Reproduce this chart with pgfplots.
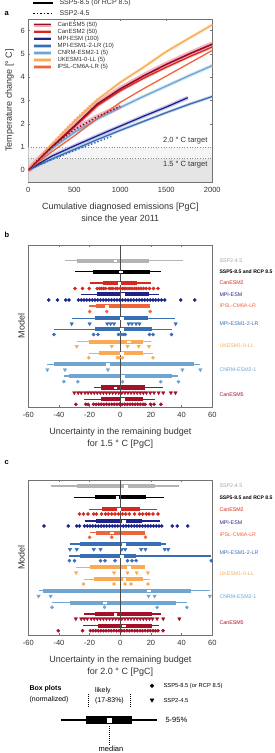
\documentclass[border=0pt]{standalone}
\usepackage{fontspec}
\setmainfont{Liberation Sans}
\usepackage{pgfplots}
\pgfplotsset{compat=1.18}
\definecolor{cCan5}{RGB}{150,12,35}
\definecolor{cCan5l}{RGB}{165,15,40}
\definecolor{cCan5b}{RGB}{242,165,185}
\definecolor{cCan2}{RGB}{215,40,30}
\definecolor{cCan2b}{RGB}{245,185,175}
\definecolor{cMPI}{RGB}{30,35,140}
\definecolor{cMPIb}{RGB}{190,190,232}
\definecolor{cMPI2}{RGB}{55,110,180}
\definecolor{cMPI2b}{RGB}{185,205,232}
\definecolor{cCNRM}{RGB}{110,165,210}
\definecolor{cCNRMb}{RGB}{200,225,242}
\definecolor{cUK}{RGB}{250,170,85}
\definecolor{cUKb}{RGB}{254,220,175}
\definecolor{cIPSL}{RGB}{240,100,60}
\definecolor{cIPSLb}{RGB}{250,200,180}
\definecolor{cGray}{RGB}{180,180,180}
\definecolor{txt}{RGB}{50,50,50}
\newcommand{\fsz}[1]{\fontsize{#1}{#1}\selectfont}
\newcommand{\bx}[7]{%
 \addplot[#1, line width=1.2pt, forget plot] coordinates {(#3,#2) (#4,#2)};
 \addplot[#1, line width=4.2pt, forget plot] coordinates {(#5,#2) (#6,#2)};
 \addplot[white, only marks, mark=square*, mark size=0.75pt, mark options={white, xscale=1.7}, forget plot] coordinates {(#7,#2)};
}
\newcommand{\dt}[3]{\addplot[only marks, mark=*, mark size=1.6pt, #1, forget plot] table[row sep=\\, header=false, x index=0, y expr=#2] {#3};}
\newcommand{\tr}[3]{\addplot[only marks, mark=triangle*, mark size=2pt, mark options={rotate=180}, #1, forget plot] table[row sep=\\, header=false, x index=0, y expr=#2] {#3};}
\pgfplotsset{
 pstyle/.style={scale only axis, anchor=north west, tick align=inside, major tick length=2pt,
   axis line style={black!55}, tick style={black!55, line width=0.4pt},
   ticklabel style={font=\fsz{7.5}, text=txt},
   xticklabel style={yshift=-1.5pt},
   label style={text=txt},
   xlabel style={align=center, font=\fontsize{9}{11.8}\selectfont, yshift=-3.5pt},
   ylabel style={font=\fsz{9}}},
 bstyle/.style={pstyle, width=184pt, xmin=-60, xmax=60, y dir=reverse, ytick=\empty,
   xtick={-60,-40,-20,0,20,40,60}, xticklabels={-60,-40,-20,0,20,40,60}, xtick pos=both, clip=false, ylabel={Model}}
}
\begin{document}
\begin{tikzpicture}
\useasboundingbox (0,0) rectangle (275pt,-753pt);
% ---------------- panel a
\begin{axis}[pstyle, at={(28.3pt,-19pt)}, width=184pt, height=163pt,
  xmin=0, xmax=2000, ymin=-0.5, ymax=6.5,
  xtick={0,500,1000,1500,2000}, xticklabels={0,500,1000,1500,2000},
  ytick={0,1,2,3,4,5,6}, yticklabels={0,1,2,3,4,5,6}, tick pos=both,
  xlabel={Cumulative diagnosed emissions [PgC]\\since the year 2011},
  ylabel={Temperature change [° C]}]
\addplot[fill=black!10, draw=none, forget plot] coordinates {(0,-0.5) (2000,-0.5) (2000,0.5) (0,0.5)} -- cycle;
\addplot[fill=black!4, draw=none, forget plot] coordinates {(0,0.5) (2000,0.5) (2000,1) (0,1)} -- cycle;
\addplot[black!45, dotted, line width=0.6pt] coordinates {(0,0.5) (2000,0.5)};
\addplot[black!45, dotted, line width=0.6pt] coordinates {(0,1) (2000,1)};
\node[anchor=east, font=\fsz{7.5}, text=txt] at (axis cs:1985,1.26) {2.0 ° C target};
\node[anchor=east, font=\fsz{7.5}, text=txt] at (axis cs:1985,0.26) {1.5 ° C target};
% bands
\addplot[cMPIb, line width=4pt, opacity=0.8] coordinates {(0,0) (100,0.25) (250,0.6) (500,1.05) (750,1.48) (1000,1.9) (1250,2.32) (1500,2.72) (1733,3.12)};
\addplot[cMPI2b, line width=3pt, opacity=0.8] coordinates {(0,0) (100,0.2) (250,0.48) (500,0.9) (750,1.32) (1000,1.72) (1250,2.1) (1500,2.48) (1750,2.84) (2000,3.17)};
\addplot[cCNRMb, line width=3.5pt, opacity=0.8] coordinates {(0,0) (100,0.38) (250,0.92) (500,1.62) (750,2.2) (1000,2.7) (1250,3.17) (1500,3.62) (1750,4.07) (2000,4.5)};
\addplot[cUKb, line width=3pt, opacity=0.8] coordinates {(0,0) (100,0.45) (200,0.88) (350,1.5) (500,2.1) (750,3.03) (1000,3.78) (1250,4.42) (1500,5.1) (1750,5.68) (2000,6.25)};
\addplot[cCan2b, line width=3pt, opacity=0.8] coordinates {(0,0) (100,0.4) (200,0.78) (350,1.32) (500,1.86) (750,2.78) (1000,3.42) (1250,3.95) (1500,4.43) (1750,4.88) (2000,5.3)};
\addplot[cCan5b, line width=5.5pt, opacity=0.85] coordinates {(0,0) (100,0.42) (200,0.8) (350,1.35) (500,1.9) (750,2.85) (1000,3.5) (1250,4.05) (1500,4.55) (1750,5.0) (2000,5.42)};
\addplot[cCan5b, line width=5pt, opacity=0.85] coordinates {(0,0) (100,0.4) (250,1.0) (500,1.75) (750,2.3) (1000,2.75)};
% SSP5-8.5 lines
\addplot[cMPI2, line width=1.3pt] coordinates {(0,0) (100,0.2) (250,0.48) (500,0.9) (750,1.32) (1000,1.72) (1250,2.1) (1500,2.48) (1750,2.84) (2000,3.17)};
\addplot[cMPI, line width=1.3pt] coordinates {(0,0) (100,0.25) (250,0.6) (500,1.05) (750,1.48) (1000,1.9) (1250,2.32) (1500,2.72) (1733,3.12)};
\addplot[cCNRM, line width=1.3pt] coordinates {(0,0) (100,0.38) (250,0.92) (500,1.62) (750,2.2) (1000,2.7) (1250,3.17) (1500,3.62) (1750,4.07) (2000,4.5)};
\addplot[cIPSL, line width=1.3pt] coordinates {(0,0) (100,0.33) (250,0.78) (500,1.48) (750,2.22) (1000,2.92) (1250,3.5) (1500,4.05) (1750,4.6) (2000,5.15)};
\addplot[cUK, line width=1.3pt] coordinates {(0,0) (100,0.45) (200,0.88) (350,1.5) (500,2.1) (750,3.03) (1000,3.78) (1250,4.42) (1500,5.1) (1750,5.68) (2000,6.25)};
\addplot[cCan2, line width=1.3pt] coordinates {(0,0) (100,0.4) (200,0.78) (350,1.32) (500,1.86) (750,2.78) (1000,3.42) (1250,3.95) (1500,4.43) (1750,4.88) (2000,5.3)};
\addplot[cCan5, line width=1.6pt] coordinates {(0,0) (100,0.42) (200,0.8) (350,1.35) (500,1.9) (750,2.85) (1000,3.5) (1250,4.05) (1500,4.55) (1750,5.0) (2000,5.42)};
% SSP2-4.5 dotted lines
\addplot[cMPI2, line width=1.4pt, dotted] coordinates {(0,0) (100,0.19) (250,0.45) (500,0.85) (750,1.22) (910,1.47)};
\addplot[cCNRM, line width=1.4pt, dotted] coordinates {(0,0) (100,0.4) (250,0.95) (500,1.68) (750,2.25) (970,2.7)};
\addplot[cUK, line width=1.4pt, dotted] coordinates {(0,0) (100,0.47) (200,0.9) (350,1.55) (500,2.15) (650,2.72) (800,3.2)};
\addplot[cCan5, line width=1.4pt, dotted] coordinates {(0,0) (100,0.4) (250,1.0) (500,1.75) (750,2.3) (1000,2.75)};
\end{axis}
% ---------------- panel b
\begin{axis}[bstyle, at={(28.3pt,-245pt)}, height=162pt, ymin=245, ymax=407,
  xlabel={Uncertainty in the remaining budget\\for 1.5 ° C [PgC]}]
\bx{cGray}{260.7}{-36}{41}{-28.4}{19}{-3.4}
\bx{black}{271.7}{-29.5}{26.8}{-17.8}{19.5}{0.3}
\bx{cCan2}{283}{-20}{20.2}{-11.4}{10.9}{-0.8}
\dt{cCan2}{288.5}{-29.5\\-24.6\\-20.2\\-15.1\\-13.5\\-12.3\\-11\\-9.6\\-7.4\\-6\\-4.7\\-3\\-1.9\\0\\1.4\\2.5\\3.6\\5\\6.3\\7.7\\9.2\\10.5\\12\\13.5\\15.1\\16.9\\19.1\\21.7\\24.6\\}
\bx{cMPI}{294.2}{-25.5}{25.3}{-15.1}{18.7}{1.4}
\dt{cMPI}{300}{-46.7\\-40.9\\-35.6\\-33.4\\-27.3\\-25.5\\-23.7\\-21.9\\-20.1\\-18.3\\-16.5\\-14.7\\-12.9\\-11.1\\-9.3\\-7.5\\-5.7\\-3.9\\-2.1\\-0.3\\1.5\\3.3\\5.1\\6.9\\8.7\\10.5\\12.3\\14.1\\15.9\\17.7\\19.5\\21.3\\23.1\\24.9\\26.8\\29\\39.4\\48.5\\}
\bx{cIPSL}{306}{-20.6}{19.5}{-15.6}{19.5}{-8.9}
\dt{cIPSL}{311.5}{-20\\-8.9\\19.5\\}
\bx{cMPI2}{318.3}{-31.7}{35.6}{-16.7}{18}{1}
\tr{cMPI2}{323.7}{-31.7\\-20\\-8.5\\-6.3\\-4.1\\5.4\\7.6\\10.3\\12.5\\36.1\\}
\bx{cMPI2}{329.3}{-43.3}{33.6}{-16.5}{20.8}{0.8}
\dt{cMPI2}{334.5}{-43.2\\-17.4\\-14.5\\-1.2\\0.3\\1.9\\3.2\\19.1\\21.4\\33.4\\}
\bx{cUK}{341.7}{-28.4}{20.2}{-20.6}{14.7}{5.4}
\tr{cUK}{346.3}{-28.4\\-5.6\\4.7\\12\\18.7\\}
\bx{cUK}{353.3}{-20.6}{21.3}{-13.6}{15.1}{0.8}
\dt{cUK}{357.7}{-20.6\\-1.9\\-0.8\\1.4\\21.3\\}
\bx{cCNRM}{364.2}{-47.6}{52.2}{-43.4}{47.8}{-8.1}
\tr{cCNRM}{369.7}{-47.6\\-36.1\\-8.1\\40.5\\52.2\\}
\bx{cCNRM}{376}{-36.8}{37.9}{-33.4}{33.9}{1.4}
\dt{cCNRM}{381.7}{-36.8\\-27.7\\1.4\\26.4\\37.9\\}
\bx{cCan5l}{387.5}{-17.3}{27.9}{-12.9}{15.8}{-3.4}
\tr{cCan5l}{392.7}{-30\\-27.5\\-25.5\\-23\\-21\\-19\\-17\\-15\\-13\\-11\\-9\\-7\\-5\\-3\\-1\\1\\3\\5\\7\\9\\11\\13\\15\\17\\19.5\\22\\25\\28\\33\\36\\}
\bx{cCan5l}{399.3}{-24}{22.4}{-12.3}{14.7}{1.4}
\dt{cCan5l}{404.3}{-29\\-22.5\\-21\\-17.5\\-15.8\\-14.1\\-12.4\\-10.7\\-9\\-7.3\\-5.6\\-3.9\\-2.2\\-0.5\\1.2\\2.9\\4.6\\6.3\\8\\9.7\\11.4\\13.1\\14.8\\16.2\\19.7\\22\\26.5\\}
\addplot[black!70, line width=0.6pt] coordinates {(0,245) (0,407)};
\end{axis}
% ---------------- panel c
\begin{axis}[bstyle, at={(28.3pt,-480pt)}, height=155pt, ymin=480, ymax=635,
  xlabel={Uncertainty in the remaining budget\\for 2.0 ° C [PgC]}]
\bx{cGray}{486}{-44.9}{38.5}{-28.4}{22.4}{3.6}
\bx{black}{497.3}{-29.9}{28.4}{-16.7}{16.9}{-1.9}
\bx{cCan2}{509.3}{-20.6}{24}{-11.8}{13.1}{-1.2}
\dt{cCan2}{514}{-26.6\\-24\\-21.1\\-17.3\\-15.6\\-12.3\\-9.6\\-7.8\\-5.6\\-3.4\\-1.2\\1.4\\3.6\\5.9\\9.2\\12.5\\14.7\\16.9\\18.7\\21.3\\24.6\\}
\bx{cMPI}{521}{-23.3}{26.2}{-15.6}{14.2}{2.1}
\dt{cMPI}{526}{-49.8\\-33.9\\-28.4\\-26.6\\-23.3\\-21.5\\-19.7\\-17.9\\-16.1\\-14.3\\-12.5\\-10.7\\-8.9\\-7.1\\-5.3\\-3.5\\-1.7\\0.1\\1.9\\3.7\\5.5\\7.3\\9.1\\10.9\\12.7\\14.5\\16.3\\18.1\\19.9\\21.7\\23.5\\25.3\\27.1\\33.9\\37.2\\44\\}
\bx{cIPSL}{532.7}{-20}{16.4}{-15.6}{16.4}{-5.6}
\dt{cIPSL}{537.3}{-20\\-5.6\\16.4\\}
\bx{cMPI2}{544}{-32.8}{30.1}{-26.2}{26.8}{2.1}
\tr{cMPI2}{549.3}{-32.8\\-28.4\\-17.3\\-12.9\\1\\3.2\\13.6\\16.4\\29\\31.2\\}
\bx{cMPI2}{556}{-33.2}{59.3}{-26.2}{10.3}{0.8}
\dt{cMPI2}{560.7}{-33.2\\-29.9\\-12.9\\-10\\-3.4\\4.7\\7.6\\10.3\\59.3\\}
\bx{cUK}{567.3}{-28.8}{15.8}{-20}{15.8}{5.4}
\tr{cUK}{572.7}{-28.8\\-4.1\\4.7\\10.7\\18\\}
\bx{cUK}{579.3}{-24}{19.1}{-16.9}{14.7}{2.5}
\dt{cUK}{584}{-24\\-4.1\\3\\7\\18\\}
\bx{cCNRM}{590.7}{-53.3}{58.4}{-50.4}{46}{18.4}
\tr{cCNRM}{596}{-53.3\\-45.4\\18.4\\22.4\\58.4\\}
\bx{cCNRM}{602.7}{-44.5}{43.4}{-32.8}{36.3}{-10.3}
\dt{cCNRM}{607.3}{-44.5\\-10.3\\24\\43.4\\}
\bx{cCan5l}{614}{-24}{26.4}{-16.7}{20.9}{-3.4}
\tr{cCan5l}{618.7}{-29\\-25.5\\-23.5\\-21.5\\-19\\-17\\-15\\-13\\-11\\-9\\-7\\-5\\-3\\-1\\1\\3\\5\\7\\9\\11\\13\\15\\17\\19\\21\\24\\28\\38.5\\}
\bx{cCan5l}{625.7}{-24.6}{25.3}{-14.5}{20.9}{2.1}
\dt{cCan5l}{630.7}{-40.5\\-24.6\\-19.5\\-17.8\\-16.1\\-14.4\\-12.7\\-11\\-9.3\\-7.6\\-5.9\\-4.2\\-2.5\\-0.8\\0.9\\2.6\\4.3\\6\\7.7\\9.4\\11.1\\12.8\\14.5\\16.2\\17.9\\19.6\\21.3\\23\\24.6\\27.9\\}
\addplot[black!70, line width=0.6pt] coordinates {(0,480) (0,635)};
\end{axis}
% ---------------- overlay (legends, labels, schematic)
\begin{axis}[at={(0pt,0pt)}, anchor=north west, scale only axis, width=275pt, height=753pt,
  xmin=0, xmax=275, ymin=0, ymax=753, y dir=reverse, hide axis, clip=false]
% panel letters
\node[anchor=west, font=\bfseries\fsz{7.5}] at (axis cs:1,13.3) {a};
\node[anchor=west, font=\bfseries\fsz{7.5}] at (axis cs:1,235) {b};
\node[anchor=west, font=\bfseries\fsz{7.5}] at (axis cs:1,463) {c};
% top legend
\addplot[black, line width=1.5pt] coordinates {(33,2.8) (53,2.8)};
\addplot[black, line width=1.5pt, dotted] coordinates {(33,13.3) (53,13.3)};
\node[anchor=west, font=\fsz{7}, text=txt] at (axis cs:56,2.8) {SSP5-8.5 (or RCP 8.5)};
\node[anchor=west, font=\fsz{7}, text=txt] at (axis cs:56,13.3) {SSP2-4.5};
% inner legend
\addplot[cCan5b, line width=4pt] coordinates {(34.3,24.5) (51,24.5)};
\addplot[cCan5, line width=1.8pt] coordinates {(34.3,24.5) (51,24.5)};
\addplot[cCan2b, line width=3.5pt] coordinates {(34.3,31.6) (51,31.6)};
\addplot[cCan2, line width=1.8pt] coordinates {(34.3,31.6) (51,31.6)};
\addplot[cMPIb, line width=3.5pt] coordinates {(34.3,38.7) (51,38.7)};
\addplot[cMPI, line width=1.8pt] coordinates {(34.3,38.7) (51,38.7)};
\addplot[cMPI2b, line width=3.5pt] coordinates {(34.3,45.8) (51,45.8)};
\addplot[cMPI2, line width=1.8pt] coordinates {(34.3,45.8) (51,45.8)};
\addplot[cCNRMb, line width=3.5pt] coordinates {(34.3,52.9) (51,52.9)};
\addplot[cCNRM, line width=1.8pt] coordinates {(34.3,52.9) (51,52.9)};
\addplot[cUKb, line width=3.5pt] coordinates {(34.3,60) (51,60)};
\addplot[cUK, line width=1.8pt] coordinates {(34.3,60) (51,60)};
\addplot[cIPSLb, line width=3.5pt] coordinates {(34.3,67.1) (51,67.1)};
\addplot[cIPSL, line width=1.8pt] coordinates {(34.3,67.1) (51,67.1)};
\node[anchor=west, font=\fsz{6}, text=txt] at (axis cs:54,24.5) {CanESM5 (50)};
\node[anchor=west, font=\fsz{6}, text=txt] at (axis cs:54,31.6) {CanESM2 (50)};
\node[anchor=west, font=\fsz{6}, text=txt] at (axis cs:54,38.7) {MPI-ESM (100)};
\node[anchor=west, font=\fsz{6}, text=txt] at (axis cs:54,45.8) {MPI-ESM1-2-LR (10)};
\node[anchor=west, font=\fsz{6}, text=txt] at (axis cs:54,52.9) {CNRM-ESM2-1 (5)};
\node[anchor=west, font=\fsz{6}, text=txt] at (axis cs:54,60) {UKESM1-0-LL (5)};
\node[anchor=west, font=\fsz{6}, text=txt] at (axis cs:54,67.1) {IPSL-CM6A-LR (5)};
% model labels b
\node[anchor=west, font=\fsz{5.3}, text=cGray!90!black] at (axis cs:216,260.7) {SSP2-4.5};
\node[anchor=west, font=\bfseries\fsz{5.1}, text=black] at (axis cs:216,271.7) {SSP5-8.5 and RCP 8.5};
\node[anchor=west, font=\fsz{5.3}, text=cCan2] at (axis cs:216,283) {CanESM2};
\node[anchor=west, font=\fsz{5.3}, text=cMPI] at (axis cs:216,294.2) {MPI-ESM};
\node[anchor=west, font=\fsz{5.3}, text=cIPSL] at (axis cs:216,306) {IPSL-CM6A-LR};
\node[anchor=west, font=\fsz{5.3}, text=cMPI2] at (axis cs:216,324) {MPI-ESM1-2-LR};
\node[anchor=west, font=\fsz{5.3}, text=cUK] at (axis cs:216,346) {UKESM1-0-LL};
\node[anchor=west, font=\fsz{5.3}, text=cCNRM] at (axis cs:216,369.5) {CNRM-ESM2-1};
\node[anchor=west, font=\fsz{5.3}, text=cCan5l] at (axis cs:216,395) {CanESM5};
% model labels c
\node[anchor=west, font=\fsz{5.3}, text=cGray!90!black] at (axis cs:216,486) {SSP2-4.5};
\node[anchor=west, font=\bfseries\fsz{5.1}, text=black] at (axis cs:216,498) {SSP5-8.5 and RCP 8.5};
\node[anchor=west, font=\fsz{5.3}, text=cCan2] at (axis cs:216,509.3) {CanESM2};
\node[anchor=west, font=\fsz{5.3}, text=cMPI] at (axis cs:216,522.5) {MPI-ESM};
\node[anchor=west, font=\fsz{5.3}, text=cIPSL] at (axis cs:216,535) {IPSL-CM6A-LR};
\node[anchor=west, font=\fsz{5.3}, text=cMPI2] at (axis cs:216,552.3) {MPI-ESM1-2-LR};
\node[anchor=west, font=\fsz{5.3}, text=cUK] at (axis cs:216,573.3) {UKESM1-0-LL};
\node[anchor=west, font=\fsz{5.3}, text=cCNRM] at (axis cs:216,596.7) {CNRM-ESM2-1};
\node[anchor=west, font=\fsz{5.3}, text=cCan5l] at (axis cs:216,622.7) {CanESM5};
% box plot schematic
\node[anchor=west, font=\bfseries\fsz{7}] at (axis cs:26,689) {Box plots};
\node[anchor=west, font=\fsz{7}] at (axis cs:26,699.5) {(normalized)};
\addplot[black, line width=2.5pt] coordinates {(60.7,720) (157,720)};
\addplot[black, line width=7.5pt] coordinates {(86,720) (132,720)};
\addplot[white, only marks, mark=square*, mark size=1.8pt, mark options={white}] coordinates {(109,720)};
\addplot[black, line width=1pt, densely dotted] coordinates {(88.3,694) (88.3,707)};
\addplot[black, line width=1pt, densely dotted] coordinates {(130,694) (130,707)};
\addplot[black, line width=1pt, densely dotted] coordinates {(109,726) (109,745)};
\node[anchor=west, font=\fsz{7}] at (axis cs:91.5,690.7) {likely};
\node[anchor=west, font=\fsz{7}] at (axis cs:91.5,700.7) {(17-83\%)};
\node[anchor=west, font=\fsz{7.5}] at (axis cs:162,720) {5-95\%};
\node[anchor=center, font=\fsz{7.5}] at (axis cs:111,749) {median};
\addplot[only marks, mark=*, mark size=1.8pt, black] coordinates {(152,685.7)};
\addplot[only marks, mark=triangle*, mark size=2.2pt, mark options={rotate=180}, black] coordinates {(152,700)};
\node[anchor=west, font=\fsz{5.8}] at (axis cs:160,685.7) {SSP5-8.5 (or RCP 8.5)};
\node[anchor=west, font=\fsz{5.8}] at (axis cs:160,700) {SSP2-4.5};
\end{axis}
\end{tikzpicture}
\end{document}
